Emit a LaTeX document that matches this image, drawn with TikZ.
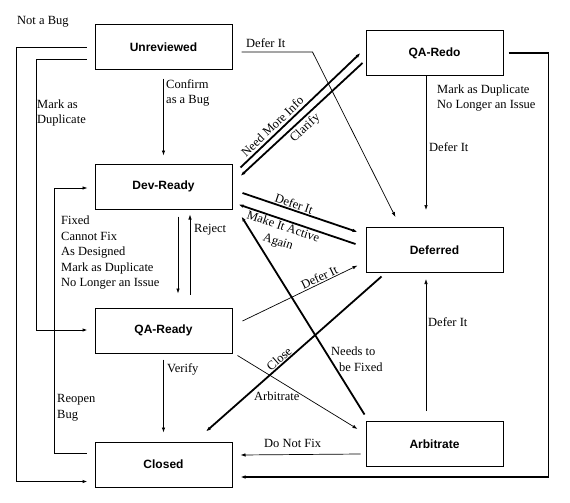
\documentclass[tikz,border=0pt]{standalone}
\usepackage{fontspec}
\setmainfont{Liberation Serif}
\newfontfamily\statefont{Liberation Sans}
\usetikzlibrary{positioning,arrows.meta,calc}

\begin{document}
\begin{tikzpicture}[
  x=1pt, y=-1pt,
  state/.style={draw, line width=1pt, minimum width=137pt, minimum height=45pt, inner sep=0pt,
    font=\statefont\bfseries\fontsize{12}{14}\selectfont},
  lbl/.style={font=\fontsize{12.5}{15.5}\selectfont, inner sep=1pt, align=left},
  arr/.style={-{Latex[length=5pt,width=3.5pt]}, line width=0.7pt},
  thickarr/.style={arr, line width=1.8pt},
]
\useasboundingbox (0,0) rectangle (570,503);

% states
\node[state] (unrev) at (163.5,47.5) {Unreviewed};
\node[state, below=93pt of unrev] (devready) {Dev-Ready};
\node[state, below=98pt of devready] (qaready) {QA-Ready};
\node[state, below=88pt of qaready] (closed) {Closed};
\node[state] (qaredo) at (434.5,53) {QA-Redo};
\node[state, below=151pt of qaredo] (deferred) {Deferred};
\node[state, below=148pt of deferred] (arbitrate) {Arbitrate};

% outer loops
\draw[thickarr] ($(unrev.west)+(-8,0)$) -- ++(-70,0) |- ($(closed.west)+(-7,17)$);
\node[lbl, anchor=west] (notabug) at (16,22) {Not a Bug};
\draw[arr, line width=1pt] ($(unrev.west)+(-8,12.5)$) -- ++(-50,0) |- ($(qaready.west)+(-7,-0.5)$);
\node[lbl, anchor=west] (markdup) at (36,113) {Mark as\\Duplicate};
\draw[arr] ($(closed.west)+(-8,-11.5)$) -- ++(-32,0) |- ($(devready.west)+(-7,1.5)$);
\node[lbl, anchor=west] (reopen) at (56,408) {Reopen\\Bug};
\draw[thickarr] ($(qaredo.east)+(5,0)$) -- ++(40,0) |- ($(closed.east)+(8,12.5)$);
\node[lbl, anchor=west] (redodup) at (436,98) {Mark as Duplicate\\No Longer an Issue};

% left column
\draw[arr] ($(unrev.south)+(0,8)$) -- ($(devready.north)+(0,-8)$);
\node[lbl, anchor=west] (confirm) at (165,93) {Confirm\\as a Bug};
\draw[arr] ($(devready.south)+(14.5,7)$) -- ($(qaready.north)+(14.5,-14)$);
\node[lbl, anchor=west] (fixed) at (60,253) {Fixed\\Cannot Fix\\As Designed\\Mark as Duplicate\\No Longer an Issue};
\draw[arr] ($(qaready.north)+(26.5,-13)$) -- ($(devready.south)+(26.5,5)$);
\node[lbl, anchor=west] (reject) at (193,230) {Reject};
\draw[arr] ($(qaready.south)+(0,6)$) -- ($(closed.north)+(0,-9)$);
\node[lbl, anchor=west] (verify) at (166,369) {Verify};

% to QA-Redo and back
\draw[thickarr] ($(devready.north east)+(8,4)$) -- ($(qaredo.west)+(-5,0)$)
  node[lbl, sloped, above=1.5pt, pos=0.31] {Need More Info};
\draw[thickarr] ($(qaredo.west)+(-3,10)$) -- ($(devready.east)+(8,-10.5)$)
  node[lbl, sloped, below=1.5pt, pos=0.52] {Clarify};

% into Deferred
\draw[arr] ($(unrev.east)+(9,4.5)$) -- ++(71,0) -- ($(deferred.north west)+(30,-10)$);
\node[lbl, anchor=west] (deferunrev) at (245,43) {Defer It};
\draw[arr] ($(qaredo.south)+(-8.5,0)$) -- ($(deferred.north)+(-8.5,-17)$);
\node[lbl, anchor=west] (deferredo) at (428,147) {Defer It};
\draw[thickarr] ($(devready.east)+(10,6.5)$) -- ($(deferred.west)+(-8,-18)$)
  node[lbl, sloped, above, pos=0.43] {Defer It};
\draw[thickarr] ($(deferred.west)+(-10,-6)$) -- ($(devready.south east)+(6,-5)$)
  node[lbl, sloped, below, pos=0.6, align=center] {Make It Active\\Again};
\draw[arr] ($(qaready.east)+(10,-9.5)$) -- ($(deferred.south west)+(-8,-7.5)$)
  node[lbl, sloped, above, pos=0.69] {Defer It};
\draw[arr] ($(arbitrate.north)+(-8.5,-10)$) -- ($(deferred.south)+(-8.5,6)$);
\node[lbl, anchor=west] (deferarb) at (427,322) {Defer It};

% out of Deferred and Arbitrate
\draw[thickarr] ($(deferred.south west)+(16,3.5)$) -- ($(closed.north)+(42.5,-10)$)
  node[lbl, sloped, above, pos=0.56] {Close};
\draw[arr] ($(qaready.south east)+(5,2)$) -- ($(arbitrate.west)+(-8,-15)$);
\node[lbl, anchor=west] (arblbl) at (253,396) {Arbitrate};
\draw[thickarr] ($(arbitrate.north west)+(-1,-6.5)$) -- ($(devready.south east)+(9,7)$);
\node[lbl, anchor=west] (needsfix) at (330,359) {Needs to\\\hspace*{8pt}be Fixed};
\draw[arr] ($(arbitrate.west)+(-5,10)$) -- ($(closed.east)+(8,-9.5)$);
\node[lbl, anchor=west] (donotfix) at (263,443) {Do Not Fix};
\end{tikzpicture}
\end{document}
